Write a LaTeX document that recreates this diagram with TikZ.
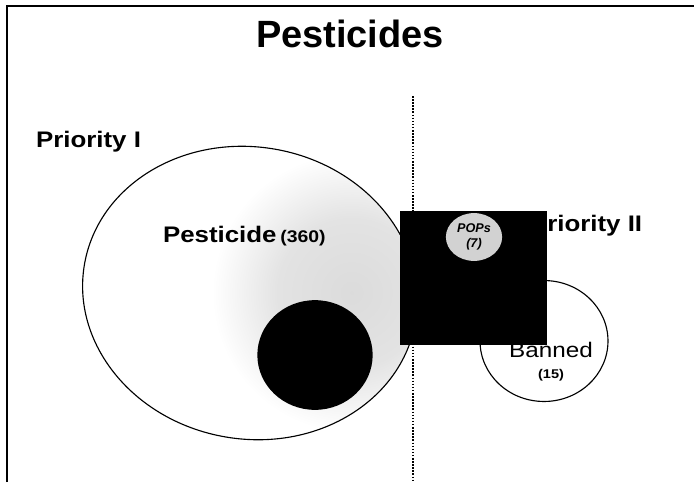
\documentclass[tikz,border=0pt]{standalone}
\usepackage{fontspec}
\setmainfont{Liberation Sans}
\newfontfamily\widesf[FakeStretch=1.15]{Liberation Sans}
\usetikzlibrary{shapes.geometric}
\pgfdeclareradialshading{stipple}{\pgfpoint{0bp}{0bp}}{color(0bp)=(gray!28); color(9bp)=(gray!22);
  color(17bp)=(white); color(50bp)=(white)}
\newcommand\pestoutline{(250,293) ellipse [x radius=168,y radius=146]}
\begin{document}
\begin{tikzpicture}[x=0.025cm,y=-0.025cm,
 every node/.style={font=\bfseries,inner sep=0pt,outer sep=0pt},
 setline/.style={line width=0.8pt},
 biglabel/.style={font=\widesf\bfseries\fontsize{16}{18}\selectfont}]
  \useasboundingbox (0,0) rectangle (694,482);
  % frame (top and left edges only)
  \draw[line width=1.4pt] (7,482) -- (7,6) -- (694,6);
  \node[anchor=base,font=\bfseries\fontsize{27}{30}\selectfont] (title) at (350,47) {Pesticides};
  % priority I
  \begin{scope}[rotate around={-10:(250,293)}]
    \fill[white] \pestoutline;
    \begin{scope}
      \clip \pestoutline;
      \shade[shading=stipple] (350,275) circle (190);
    \end{scope}
    \draw[setline] \pestoutline;
  \end{scope}
  \node[ellipse,fill=black,minimum width=82pt,minimum height=78pt] (chem) at (315,355) {};
  \node[anchor=base west,biglabel] (prio1) at (36,147) {Priority I};
  \node[anchor=base west,biglabel] (pestlabel) at (163,242) {Pesticide\,{\fontsize{12}{14}\selectfont (360)}};
  % separator
  \coordinate (sepTop) at (413,96);
  \coordinate (sepBot) at (413,482);
  \draw[line width=1.3pt,dash pattern=on 1.1pt off 1.1pt] (sepTop) -- (sepBot);
  % priority II
  \node[ellipse,draw,setline,fill=white,minimum width=91pt,minimum height=86pt] (ban) at (544,341) {};
  \node[anchor=base,font=\widesf\fontsize{15}{17}\selectfont] (banlabel) at (551,357) {Banned};
  \node[anchor=base,font=\widesf\bfseries\fontsize{9}{11}\selectfont] (bannum) at (551,378) {(15)};
  \node[anchor=base west,biglabel] (prio2) at (530,231) {Priority II};
  \node[fill=black,minimum width=104pt,minimum height=95pt] (box) at (473.5,278) {};
  \node[ellipse,fill=gray!35,minimum width=40pt,minimum height=34pt,align=center,
    font=\bfseries\itshape\fontsize{9}{9.5}\selectfont] (pops) at (474,237) {POPs\\[1pt](7)};
\end{tikzpicture}
\end{document}
